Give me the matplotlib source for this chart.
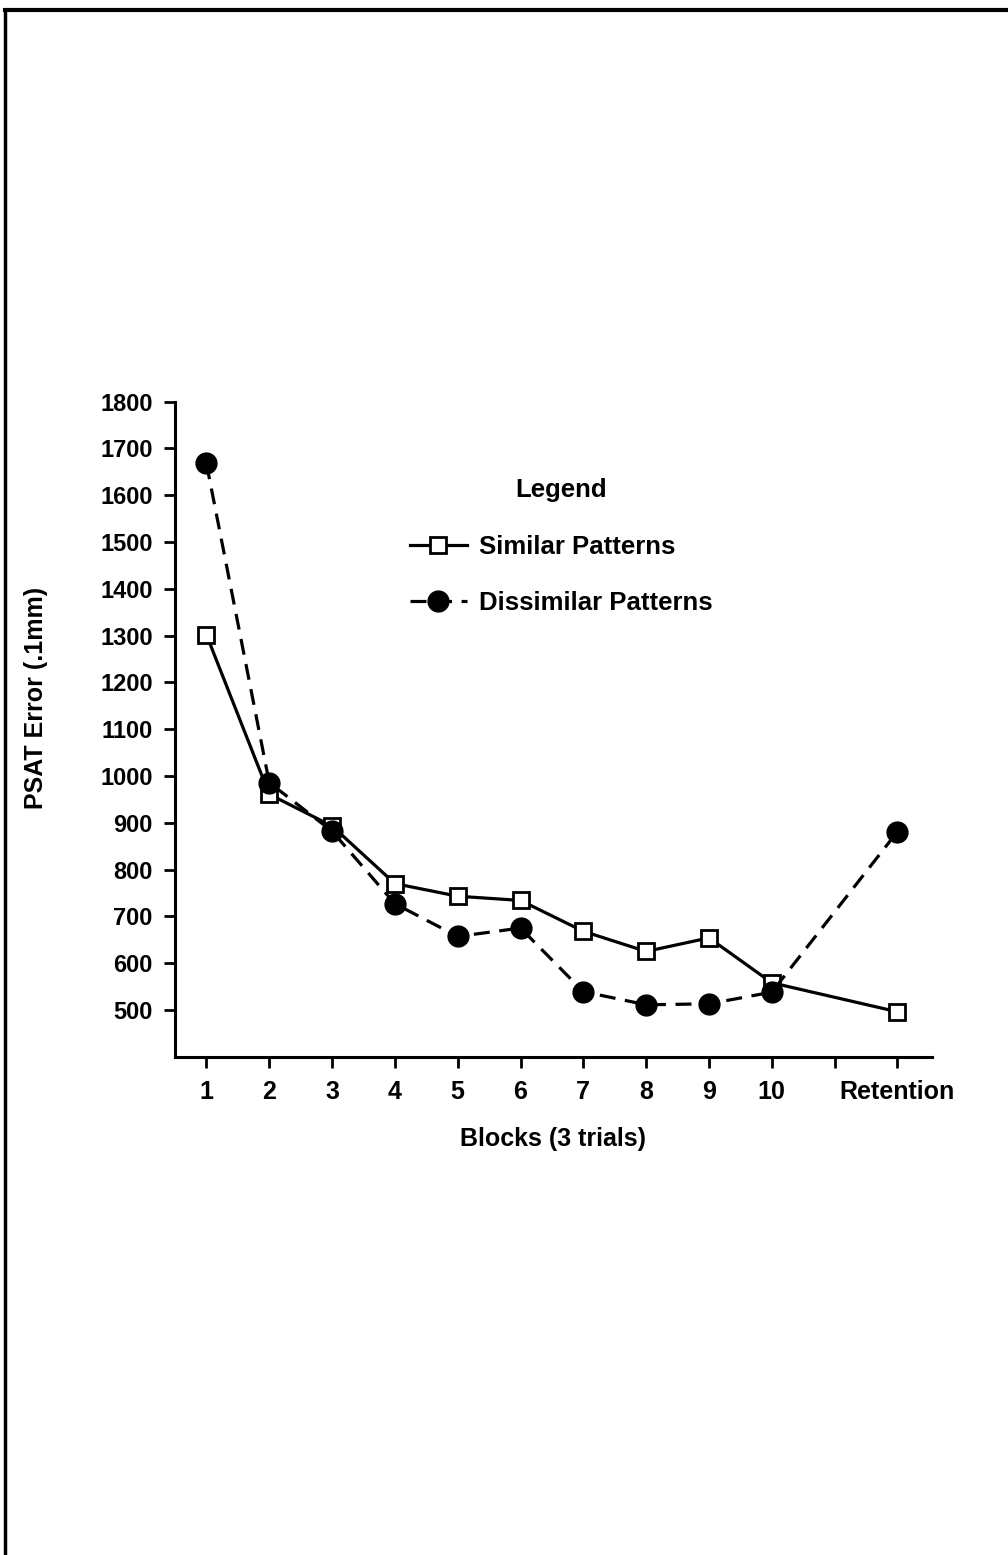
import matplotlib
matplotlib.use("Agg")
from matplotlib import pyplot as plt
from matplotlib.lines import Line2D

# values
blocks = ['1', '2', '3', '4', '5', '6', '7', '8', '9', '10', 'Retention']
block_pos = [1, 2, 3, 4, 5, 6, 7, 8, 9, 10, 12]
similar = [1302, 961, 893, 770, 743, 734, 668, 625, 654, 558, 496]
dissimilar = [1668, 986, 882, 727, 657, 675, 539, 511, 513, 538, 881]
y_ticks = [500, 600, 700, 800, 900, 1000, 1100, 1200, 1300, 1400,
           1500, 1600, 1700, 1800]

plt.rcParams['font.family'] = ['Liberation Sans', 'DejaVu Sans']
plt.rcParams['font.weight'] = 'bold'

W, H = 1008, 1555
fig = plt.figure(figsize=(W / 100, H / 100), dpi=100)
fig.patch.set_facecolor('white')

# page border (top and left only, like the scan)
fig.add_artist(Line2D([5 / W, 1], [1 - 10 / H, 1 - 10 / H], color='black', lw=3))
fig.add_artist(Line2D([5 / W, 5 / W], [0, 1 - 10 / H], color='black', lw=2.5))

ax = fig.add_axes([175 / W, 1 - 1056.7 / H, (932 - 175) / W, (1056.7 - 401.7) / H])

ax.plot(block_pos, similar, color='black', lw=2.3, linestyle='-',
        marker='s', markersize=12, markerfacecolor='white',
        markeredgecolor='black', markeredgewidth=2, label='Similar Patterns',
        zorder=3)
ax.plot(block_pos, dissimilar, color='black', lw=2.3, linestyle=(0, (5, 3)),
        marker='o', markersize=15, markerfacecolor='black',
        markeredgecolor='black', label='Dissimilar Patterns', zorder=4)

ax.set_xlim(0.5, 12.55)
ax.set_ylim(400, 1800)
ax.set_yticks(y_ticks)
ax.set_yticklabels([str(v) for v in y_ticks], fontsize=17, fontweight='bold')

tick_pos = list(range(1, 13))
tick_lab = blocks[:10] + ['', blocks[10]]
ax.set_xticks(tick_pos)
ax.set_xticklabels(tick_lab, fontsize=18, fontweight='bold')

ax.tick_params(axis='both', direction='out', length=8, width=2)
ax.tick_params(axis='y', pad=8)
ax.tick_params(axis='x', pad=9)

for side in ['top', 'right']:
    ax.spines[side].set_visible(False)
for side in ['left', 'bottom']:
    ax.spines[side].set_linewidth(2.2)

ax.set_xlabel('Blocks (3 trials)', fontsize=18, fontweight='bold', labelpad=16)
ax.set_ylabel('PSAT Error (.1mm)', fontsize=18, fontweight='bold')
ax.yaxis.set_label_coords(-0.168, 0.548)

leg = ax.legend(loc='upper left', bbox_to_anchor=(410 / W, 1 - 478 / H),
                bbox_transform=fig.transFigure, frameon=False, title='Legend',
                fontsize=18.5, title_fontproperties={'size': 18.5, 'weight': 'bold'},
                handlelength=2.2, handletextpad=0.5, labelspacing=1.25,
                borderpad=0, borderaxespad=0)
leg._legend_box.sep = 24
leg._legend_box.align = 'center'

fig.savefig('out.png', dpi=100)
